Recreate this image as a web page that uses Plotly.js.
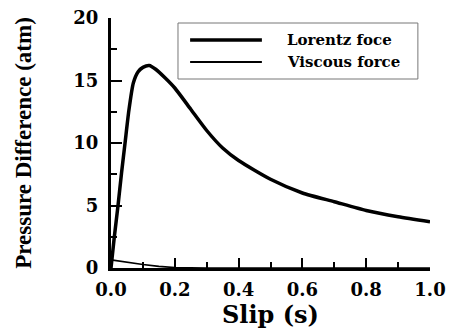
<!DOCTYPE html>
<html>
<head>
<meta charset="utf-8">
<script src="https://cdn.plot.ly/plotly-3.0.1.min.js"></script>
<style>
html,body{margin:0;padding:0;background:#fff;overflow:hidden;}
#chart{width:457px;height:336px;position:relative;z-index:1;}
#repaint{position:absolute;left:4px;top:4px;font-size:10px;font-family:monospace;z-index:0;white-space:pre;}
</style>
</head>
<body>
<div id="chart"></div>
<div id="repaint"></div>
<script>
const lorentzSlip = [0, 0.01, 0.022, 0.033, 0.044, 0.056, 0.07, 0.085, 0.1, 0.12, 0.14, 0.17, 0.2, 0.25, 0.3, 0.35, 0.4, 0.5, 0.6, 0.7, 0.8, 0.9, 1.0];
const lorentzForce = [0, 2.4, 5.0, 7.6, 10.0, 12.6, 14.8, 15.7, 16.05, 16.2, 15.9, 15.2, 14.4, 12.7, 11.0, 9.6, 8.6, 7.1, 6.0, 5.3, 4.6, 4.1, 3.7];
const viscousSlip = [0, 0.05, 0.1, 0.15, 0.2, 0.3, 0.5, 0.75, 1.0];
const viscousForce = [0.65, 0.45, 0.28, 0.13, 0.03, 0, 0, 0, 0];
const seriesNames = ["Lorentz foce", "Viscous force"];
const xTicks = [0, 0.2, 0.4, 0.6, 0.8, 1.0];
const xTickText = ["0.0", "0.2", "0.4", "0.6", "0.8", "1.0"];
const yTicks = [0, 5, 10, 15, 20];

const SERIF_WIDE = "DejaVu Serif";
const SERIF = "Liberation Serif";
const tickFont = {family: SERIF_WIDE, size: 18, color: "#000", weight: 700};

const traces = [
  {x: lorentzSlip, y: lorentzForce, name: seriesNames[0], mode: "lines", line: {color: "#000", width: 3.5, shape: "spline", smoothing: 0.6}, showlegend: false},
  {x: viscousSlip, y: viscousForce, name: seriesNames[1], mode: "lines", line: {color: "#000", width: 1.6}, showlegend: false}
];

const legX0 = 0.248, legX1 = 0.473, legTextX = 0.545;
const legY = [0.912, 0.824];

const layout = {
  width: 457, height: 336,
  margin: {l: 111, r: 27, t: 18, b: 68},
  paper_bgcolor: "#fff", plot_bgcolor: "#fff",
  font: {family: SERIF_WIDE, color: "#000"},
  showlegend: false,
  xaxis: {
    range: [0, 1], tickvals: xTicks, ticktext: xTickText,
    ticks: "inside", ticklen: 10, tickwidth: 2, tickcolor: "#000",
    minor: {dtick: 0.1, tick0: 0, ticks: "inside", ticklen: 6, tickwidth: 2, tickcolor: "#000"},
    showline: true, linewidth: 3, linecolor: "#000", mirror: false,
    showgrid: false, zeroline: false,
    tickfont: tickFont, ticklabelstandoff: 3,
    title: {text: "Slip (s)", font: {family: SERIF_WIDE, size: 24, color: "#000", weight: 700}, standoff: 6}
  },
  yaxis: {
    range: [0, 20], tickvals: yTicks,
    ticks: "inside", ticklen: 11, tickwidth: 2, tickcolor: "#000",
    minor: {dtick: 2.5, tick0: 0, ticks: "inside", ticklen: 6, tickwidth: 2, tickcolor: "#000"},
    showline: true, linewidth: 3, linecolor: "#000",
    showgrid: false, zeroline: false,
    tickfont: tickFont, ticklabelstandoff: 6,
    title: {text: "Pressure Difference (atm)", font: {family: SERIF, size: 23, color: "#000", weight: 700}, standoff: 36}
  },
  shapes: [
    {type: "rect", xref: "paper", yref: "paper", x0: 0.21, x1: 0.962, y0: 0.756, y1: 0.98, line: {color: "#777", width: 1}, fillcolor: "rgba(0,0,0,0)"},
    {type: "line", xref: "paper", yref: "paper", x0: legX0, x1: legX1, y0: legY[0], y1: legY[0], line: {color: "#000", width: 3.5}},
    {type: "line", xref: "paper", yref: "paper", x0: legX0, x1: legX1, y0: legY[1], y1: legY[1], line: {color: "#000", width: 1.8}}
  ],
  annotations: seriesNames.map((n, i) => ({
    text: n, xref: "paper", yref: "paper", x: legTextX, y: legY[i], xanchor: "left", yanchor: "middle",
    showarrow: false, font: {family: SERIF_WIDE, size: 15, color: "#000", weight: 700}
  }))
};

Plotly.newPlot("chart", traces, layout, {staticPlot: true, displayModeBar: false}).then(() => {
  // force a repaint once the plot exists so the serif faces are used
  document.getElementById("repaint").textContent = "\u00a0";
});
</script>
</body>
</html>
